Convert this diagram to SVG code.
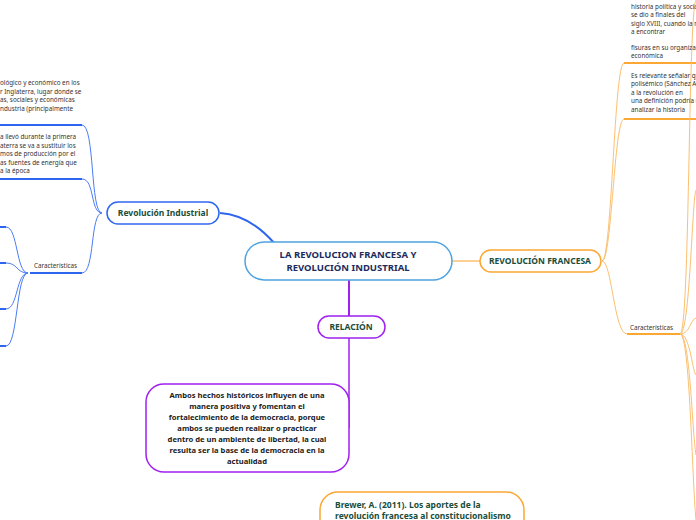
<svg xmlns="http://www.w3.org/2000/svg" width="696" height="520" viewBox="0 0 696 520">
<style>
text{font-family:"Noto Sans","Open Sans",sans-serif;}
.s{font-size:6.3px;fill:#333;}
.b{font-weight:bold;fill:#1a4d3a;font-size:8.5px;}
.bl{fill:none;stroke:#4a7cf5;stroke-width:1;}
.blt{stroke:#2f66f0;stroke-width:2;}
.or{fill:none;stroke:#fbc070;stroke-width:1;}
.ort{stroke:#fba733;stroke-width:2;}
</style>
<rect width="696" height="520" fill="#fff"/>
<g id="connectors">
<path d="M220 213 Q250 215 275 244" fill="none" stroke="#2f66f0" stroke-width="2"/>
<path d="M452 261 L480 261" fill="none" stroke="#fbc070" stroke-width="1.5"/>
<path d="M349 280 L349 316" stroke="#a020f0" stroke-width="2"/>
<path d="M349 338 L349 428" stroke="#a020f0" stroke-width="1.5"/>
<path class="bl" d="M102 213 C90 213 95 125 82 125"/>
<path class="bl" d="M102 213 C90 213 95 179 82 179"/>
<path class="bl" d="M102 213 C90 213 95 273 82 273"/>
<line class="blt" x1="0" y1="125" x2="82" y2="125"/>
<line class="blt" x1="0" y1="179" x2="82" y2="179"/>
<line class="blt" x1="30" y1="273" x2="82" y2="273"/>
<path class="bl" d="M28 273 C16 273 18 227 6 227"/>
<path class="bl" d="M28 273 C16 273 18 263 6 263"/>
<path class="bl" d="M28 273 C16 273 18 309 6 309"/>
<path class="bl" d="M28 273 C16 273 18 346 6 346"/>
<line class="blt" x1="0" y1="227" x2="6" y2="227"/>
<line class="blt" x1="0" y1="263" x2="6" y2="263"/>
<line class="blt" x1="0" y1="309" x2="6" y2="309"/>
<line class="blt" x1="0" y1="346" x2="6" y2="346"/>
<path class="or" d="M602 261 C612 261 614 63 624 63"/>
<path class="or" d="M602 261 C612 261 614 119 624 119"/>
<path class="or" d="M602 261 C612 261 614 334 627 334"/>
<line class="ort" x1="624" y1="63" x2="696" y2="63"/>
<line class="ort" x1="624" y1="119" x2="696" y2="119"/>
<line class="ort" x1="627" y1="334" x2="680" y2="334"/>
<path class="or" d="M680 334 C690 334 688 10 696 0"/>
<path class="or" d="M680 334 C690 334 692 200 696 190"/>
<path class="or" d="M680 334 C690 334 690 320 696 318"/>
<path class="or" d="M680 334 C690 334 692 370 696 375"/>
<path class="or" d="M680 334 C690 334 692 430 696 455"/>
<path class="or" d="M680 334 C690 334 692 480 696 520"/>
</g>
<g id="main">
<rect x="245" y="242" width="207" height="38" rx="19" fill="#fff" stroke="#4da3e0" stroke-width="1.5"/>
<text x="348" y="258" text-anchor="middle" font-size="9.5" font-weight="bold" fill="#1c2b5c">LA REVOLUCION FRANCESA Y</text>
<text x="348" y="271" text-anchor="middle" font-size="9.5" font-weight="bold" fill="#1c2b5c">REVOLUCIÓN INDUSTRIAL</text>
</g>
<g id="ri">
<rect x="107" y="202" width="112" height="22" rx="11" fill="#fff" stroke="#2f66f0" stroke-width="1.5"/>
<text x="163" y="216" text-anchor="middle" class="b">Revolución Industrial</text>
</g>
<g id="rf">
<rect x="480" y="250" width="121" height="22" rx="11" fill="#fff" stroke="#fba733" stroke-width="1.5"/>
<text x="540" y="264" text-anchor="middle" class="b" font-size="8">REVOLUCIÓN FRANCESA</text>
</g>
<g id="rel">
<rect x="318" y="316" width="67" height="22" rx="11" fill="#fff" stroke="#a020f0" stroke-width="1.5"/>
<text x="351" y="330" text-anchor="middle" class="b" font-size="8">RELACIÓN</text>
</g>
<g id="ambos">
<rect x="146" y="384" width="203" height="88" rx="18" fill="#fff" stroke="#a020f0" stroke-width="1.5"/>
<g text-anchor="middle" font-size="7.6" font-weight="bold" fill="#222">
<text x="247" y="398">Ambos hechos históricos influyen de una</text>
<text x="247" y="409">manera positiva y fomentan el</text>
<text x="247" y="420">fortalecimiento de la democracia, porque</text>
<text x="247" y="431">ambos se pueden realizar o practicar</text>
<text x="247" y="442">dentro de un ambiente de libertad, la cual</text>
<text x="247" y="453">resulta ser la base de la democracia en la</text>
<text x="247" y="464">actualidad</text>
</g>
</g>
<g id="brewer">
<rect x="320" y="492" width="204" height="60" rx="18" fill="#fff" stroke="#fba733" stroke-width="1.5"/>
<text x="335" y="508" class="b" font-size="7.8">Brewer, A. (2011). Los aportes de la</text>
<text x="335" y="519" class="b" font-size="7.8">revolución francesa al constitucionalismo</text>
</g>
<g id="ri-texts" class="s">
<text x="0" y="85">ológico y económico en los</text>
<text x="0" y="94">r Inglaterra, lugar donde se</text>
<text x="0" y="102">as, sociales y económicas</text>
<text x="0" y="111">ndustria (principalmente</text>
<text x="0" y="139">a llevó durante la primera</text>
<text x="0" y="148">aterra se va a sustituir los</text>
<text x="0" y="156">mos de producción por el</text>
<text x="0" y="165">as fuentes de energía que</text>
<text x="0" y="173">a la época</text>
<text x="34" y="268">Características</text>
</g>
<g id="rf-texts" class="s">
<text x="631" y="9">historia política y social</text>
<text x="631" y="17">se dio a finales del</text>
<text x="631" y="26">siglo XVIII, cuando la m</text>
<text x="631" y="34">a encontrar</text>
<text x="631" y="50">fisuras en su organizaci</text>
<text x="631" y="58">económica</text>
<text x="631" y="78">Es relevante señalar qu</text>
<text x="631" y="86">polisémico (Sánchez Án</text>
<text x="631" y="95">a la revolución en</text>
<text x="631" y="103">una definición podría re</text>
<text x="631" y="112">analizar la historia</text>
<text x="630" y="330">Características</text>
</g>
</svg>
